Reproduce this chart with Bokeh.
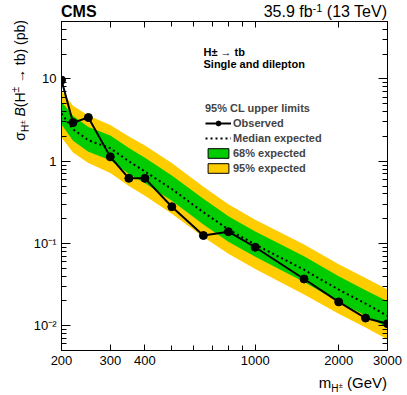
from bokeh.plotting import figure
from bokeh.models import Range1d, LogAxis, FixedTicker, Label, Legend, LegendItem, Div
from bokeh.layouts import row, column
from bokeh.embed import file_html
from bokeh.resources import INLINE

# ---- data ----
mass = [200, 220, 250, 300, 350, 400, 500, 650, 800, 1000, 1500, 2000, 2500, 3000]
observed = [9.7, 2.95, 3.4, 1.13, 0.62, 0.62, 0.28, 0.125, 0.139, 0.090, 0.037, 0.0195, 0.0124, 0.0106]
exp_median = [3.8, 2.45, 1.8, 1.44, 1.0, 0.75, 0.46, 0.24, 0.148, 0.097, 0.048, 0.0275, 0.0186, 0.0132]
exp_m2 = [1.95, 1.28, 0.95, 0.72, 0.5, 0.38, 0.23, 0.12, 0.075, 0.049, 0.024, 0.0140, 0.0095, 0.0068]
exp_m1 = [2.8, 1.77, 1.3, 1.03, 0.7, 0.54, 0.33, 0.17, 0.105, 0.069, 0.034, 0.0196, 0.0133, 0.0094]
exp_p1 = [5.3, 3.57, 2.6, 2.05, 1.45, 1.1, 0.67, 0.35, 0.215, 0.14, 0.070, 0.040, 0.027, 0.0198]
exp_p2 = [7.2, 4.73, 3.6, 2.75, 2.0, 1.55, 0.95, 0.49, 0.30, 0.195, 0.097, 0.056, 0.038, 0.0275]

x_tick_values = [200, 300, 400, 1000, 2000, 3000]
x_tick_labels = ["200", "300", "400", "1000", "2000", "3000"]
x_minor_values = [500, 600, 700, 800, 900]
y_tick_values = [0.01, 0.1, 1, 10]
y_tick_labels = ["10⁻²", "10⁻¹", "1", "10"]
y_minor_values = [m * 10.0 ** e for e in range(-3, 2) for m in range(2, 10)
                  if 0.005 <= m * 10.0 ** e <= 50]

GREEN = "#00cc00"
YELLOW = "#ffcc00"
FONT = "Liberation Sans"
NAN = float("nan")

p = figure(width=379, height=352, x_axis_type="log", y_axis_type="log",
           x_range=Range1d(200, 3000), y_range=Range1d(0.005, 50),
           output_backend="svg", toolbar_location=None,
           min_border_left=33, min_border_right=20, min_border_top=1, min_border_bottom=22)
p.grid.visible = False
p.outline_line_color = "black"
p.outline_line_width = 1
p.background_fill_color = "white"
p.border_fill_color = "white"


def style_axis(ax, ticks, minors, labels, show, major_len, minor_len):
    ax.ticker = FixedTicker(ticks=ticks, minor_ticks=minors)
    ax.major_tick_in = major_len
    ax.major_tick_out = 0
    ax.minor_tick_in = minor_len
    ax.minor_tick_out = 0
    ax.axis_line_color = "black"
    ax.major_tick_line_color = "black"
    ax.minor_tick_line_color = "black"
    ax.axis_label = None
    if show:
        ax.major_label_overrides = {v: l for v, l in zip(ticks, labels)}
        ax.major_label_text_font = FONT
        ax.major_label_text_font_size = "13px"
        ax.major_label_text_color = "black"
        ax.major_label_standoff = 5
    else:
        ax.major_label_text_font_size = "0px"
        ax.major_label_standoff = 0
        ax.major_label_overrides = {v: "" for v in ticks}


style_axis(p.xaxis[0], x_tick_values, x_minor_values, x_tick_labels, True, 6, 5)
style_axis(p.yaxis[0], y_tick_values, y_minor_values, y_tick_labels, True, 9, 5)
top_ax = LogAxis()
right_ax = LogAxis()
p.add_layout(top_ax, "above")
p.add_layout(right_ax, "right")
style_axis(top_ax, x_tick_values, x_minor_values, x_tick_labels, False, 6, 5)
style_axis(right_ax, y_tick_values, y_minor_values, y_tick_labels, False, 9, 5)

# bands
p.varea(x=mass, y1=exp_m2, y2=exp_p2, fill_color=YELLOW)
p.varea(x=mass, y1=exp_m1, y2=exp_p1, fill_color=GREEN)
med_r = p.line(mass, exp_median, line_color="black", line_width=2, line_dash="2 3")
obs_l = p.line(mass, observed, line_color="black", line_width=2)
obs_s = p.scatter(mass, observed, size=8, marker="circle", fill_color="black", line_color="black")

# legend-only boxes with black outline (one undrawn NaN row so the legend has a glyph)
g_box = p.quad(left=[NAN], right=[NAN], top=[NAN], bottom=[NAN],
               fill_color=GREEN, line_color="black", line_width=1)
y_box = p.quad(left=[NAN], right=[NAN], top=[NAN], bottom=[NAN],
               fill_color=YELLOW, line_color="black", line_width=1)

legend = Legend(items=[
    LegendItem(label="Observed", renderers=[obs_l, obs_s]),
    LegendItem(label="Median expected", renderers=[med_r]),
    LegendItem(label="68% expected", renderers=[g_box]),
    LegendItem(label="95% expected", renderers=[y_box]),
], location=(144, 176), title="95% CL upper limits")
legend.title_text_font = FONT
legend.title_text_font_style = "bold"
legend.title_text_font_size = "11px"
legend.title_standoff = 3
legend.label_text_font = FONT
legend.label_text_font_style = "bold"
legend.label_text_font_size = "11px"
legend.glyph_width = 26
legend.glyph_height = 12
legend.label_height = 12
legend.label_standoff = 2
legend.spacing = 3
legend.padding = 0
legend.margin = 0
legend.border_line_alpha = 0
legend.background_fill_alpha = 0
p.add_layout(legend)


def txt(text, x, y, size, style="normal"):
    p.add_layout(Label(x=x, y=y, x_units="screen", y_units="screen", text=text,
                       text_font=FONT, text_font_size=size, text_font_style=style,
                       text_baseline="alphabetic", text_color="black"))


txt("H± → tb", 142, 299, "11px", "bold")
txt("Single and dilepton", 142, 286.5, "11px", "bold")

# ---- titles outside the frame as HTML text ----
FF = "font-family:'Liberation Sans',Arial,sans-serif;color:#000;"
SUB = "font-size:10px;line-height:0;vertical-align:-4px;"
SUBSUP = "font-size:8px;line-height:0;vertical-align:4px;"
SUP = "font-size:10px;line-height:0;vertical-align:6px;"

header_html = (
    '<div style="position:relative;width:379px;height:20px;">'
    f'<span style="position:absolute;left:33px;top:2.5px;{FF}font-size:16px;line-height:18px;'
    'font-weight:bold;white-space:nowrap;">CMS</span>'
    f'<span style="position:absolute;right:20px;top:2.5px;{FF}font-size:16px;line-height:18px;'
    'white-space:nowrap;">35.9 fb<sup style="font-size:11px;line-height:0;vertical-align:5px;">-1</sup>'
    ' (13 TeV)</span></div>'
)
xtitle_html = (
    '<div style="position:relative;width:379px;height:23px;">'
    f'<span style="position:absolute;right:20px;top:2px;{FF}font-size:15px;line-height:18px;'
    f'white-space:nowrap;">m<sub style="{SUB}">H<sup style="{SUBSUP}">±</sup></sub> (GeV)</span></div>'
)
ytitle_html = (
    '<div style="position:relative;width:28px;height:395px;">'
    f'<div style="position:absolute;left:11.5px;top:20px;transform-origin:0 0;'
    f'transform:rotate(-90deg) translateX(-100%);white-space:nowrap;{FF}'
    'font-size:14px;line-height:17px;">'
    f'σ<sub style="{SUB}">H<sup style="{SUBSUP}">±</sup></sub> <i>B</i>(H<sup style="{SUP}">±</sup>'
    ' → tb) (pb)</div></div>'
)

header = Div(text=header_html, width=379, height=20, margin=0)
xtitle = Div(text=xtitle_html, width=379, height=23, margin=0)
ytitle = Div(text=ytitle_html, width=28, height=395, margin=0)

layout = row(ytitle, column(header, p, xtitle, spacing=0), spacing=0)

open("out.html", "w").write(file_html(layout, INLINE))
